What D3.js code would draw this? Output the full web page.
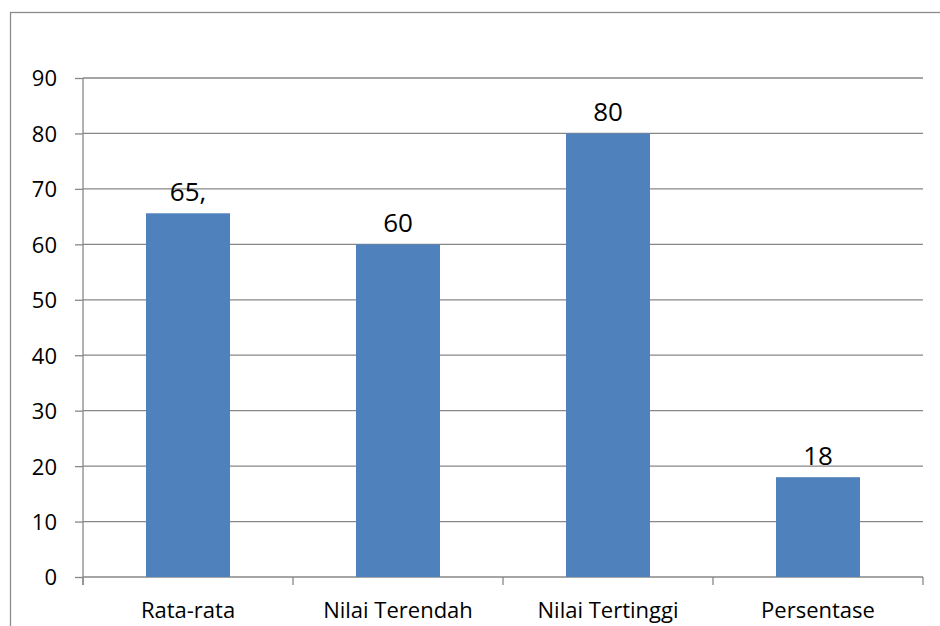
<!DOCTYPE html>
<html>
<head>
<meta charset="utf-8">
<script src="https://cdn.jsdelivr.net/npm/d3@7"></script>
<style>
  html, body { margin: 0; padding: 0; background: #fff; }
  svg { display: block; }
  text { font-family: "Open Sans", sans-serif; fill: #000; }
</style>
</head>
<body>
<svg id="chart" width="940" height="626"></svg>
<script>
const categories = ["Rata-rata", "Nilai Terendah", "Nilai Tertinggi", "Persentase"];
const values = [65.6, 60, 80, 18];
const valueLabels = ["65,", "60", "80", "18"];
const yTicks = [0, 10, 20, 30, 40, 50, 60, 70, 80, 90];

const W = 940, H = 626;
const plot = { left: 83, right: 923, top: 78, bottom: 577 };
const svg = d3.select("#chart");

// outer chart border (right and bottom edges fall outside the picture)
svg.append("rect")
  .attr("x", 10.5).attr("y", 12.5)
  .attr("width", 960).attr("height", 660)
  .attr("fill", "none").attr("stroke", "#8c8c8c").attr("stroke-width", 1.3);

const x = d3.scaleBand().domain(categories).range([plot.left, plot.right]).padding(0);
const y = d3.scaleLinear().domain([0, 90]).range([plot.bottom, plot.top]);

// gridlines
svg.append("g").selectAll("line").data(yTicks.filter(d => d > 0)).join("line")
  .attr("x1", plot.left).attr("x2", plot.right)
  .attr("y1", d => y(d)).attr("y2", d => y(d))
  .attr("stroke", "#878787").attr("stroke-width", 1.3);

// y axis
const yAxis = svg.append("g").attr("transform", `translate(${plot.left},0)`)
  .call(d3.axisLeft(y).tickValues(yTicks).tickSize(8).tickPadding(18).tickFormat(d3.format("d")));
yAxis.select(".domain").remove();
yAxis.selectAll(".tick line").attr("stroke", "#878787").attr("stroke-width", 1.3);
yAxis.selectAll(".tick text").attr("font-size", 22).attr("font-family", "Open Sans").attr("fill", "#000").attr("dy", "0.36em");
svg.append("line").attr("x1", plot.left).attr("x2", plot.left)
  .attr("y1", plot.top).attr("y2", plot.bottom + 8)
  .attr("stroke", "#878787").attr("stroke-width", 1.3);

// x axis line and ticks at category boundaries
svg.append("line").attr("x1", plot.left).attr("x2", plot.right)
  .attr("y1", plot.bottom).attr("y2", plot.bottom)
  .attr("stroke", "#878787").attr("stroke-width", 1.3);
const bounds = categories.map(c => x(c)).concat([x(categories[categories.length - 1]) + x.bandwidth()]);
svg.append("g").selectAll("line").data(bounds).join("line")
  .attr("x1", d => d).attr("x2", d => d)
  .attr("y1", plot.bottom).attr("y2", plot.bottom + 8)
  .attr("stroke", "#878787").attr("stroke-width", 1.3);

// bars
const barW = x.bandwidth() * 0.4;
svg.append("g").selectAll("rect").data(values).join("rect")
  .attr("x", (d, i) => x(categories[i]) + x.bandwidth() / 2 - barW / 2)
  .attr("y", d => y(d))
  .attr("width", barW)
  .attr("height", d => y(0) - y(d))
  .attr("fill", "#4f81bd");

// value labels
svg.append("g").selectAll("text").data(values).join("text")
  .attr("x", (d, i) => x(categories[i]) + x.bandwidth() / 2)
  .attr("y", d => y(d) - 12)
  .attr("text-anchor", "middle")
  .attr("font-size", 26)
  .text((d, i) => valueLabels[i]);

// category labels
svg.append("g").selectAll("text").data(categories).join("text")
  .attr("x", d => x(d) + x.bandwidth() / 2)
  .attr("y", 618)
  .attr("text-anchor", "middle")
  .attr("font-size", 22)
  .text(d => d);
</script>
</body>
</html>
